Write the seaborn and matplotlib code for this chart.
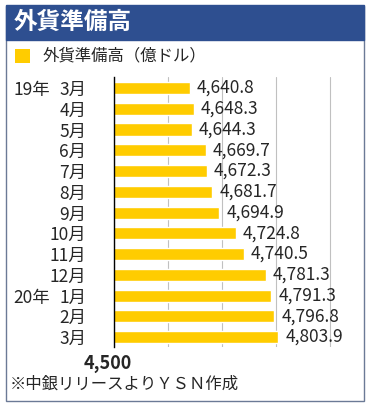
import pandas as pd
import seaborn as sns
import matplotlib.pyplot as plt
import matplotlib.transforms as mtransforms
from matplotlib.patches import Rectangle

# data
years = ['19年', '', '', '', '', '', '', '', '', '', '20年', '', '']
months = ['3月', '4月', '5月', '6月', '7月', '8月', '9月', '10月', '11月', '12月', '1月', '2月', '3月']
reserves = [4640.8, 4648.3, 4644.3, 4669.7, 4672.3, 4681.7, 4694.9,
            4724.8, 4740.5, 4781.3, 4791.3, 4796.8, 4803.9]

W, H = 371, 408
YELLOW = '#ffcc00'
BLUE = '#2e4f90'

sns.set_theme(style='white')
plt.rcParams['font.family'] = ['Noto Sans CJK JP', 'DejaVu Sans']

df = pd.DataFrame({'key': [str(i) for i in range(len(months))], 'value': reserves})

fig = plt.figure(figsize=(W / 100, H / 100), dpi=100)

def fx(x):
    return x / W

def fy(y):
    return 1 - y / H

# panel frame + title bar
fig.patches.append(Rectangle((fx(6), fy(401)), fx(358), 395 / H, transform=fig.transFigure,
                             fill=False, ec='#6b7a96', lw=1.0))
fig.patches.append(Rectangle((fx(6), fy(40)), fx(358), 35 / H, transform=fig.transFigure,
                             fc=BLUE, ec=BLUE))
fig.text(fx(14), fy(22), '外貨準備高', color='white', fontsize=17, fontweight='bold',
         va='center', ha='left')

# legend
fig.patches.append(Rectangle((fx(15), fy(63)), fx(15), 14 / H, transform=fig.transFigure,
                             fc=YELLOW, ec='none'))
fig.text(fx(43), fy(56), '外貨準備高（億ドル）', fontsize=11.8, va='center', ha='left')

# bars
ax = fig.add_axes([fx(114), fy(347), fx(246), 270 / H])
sns.barplot(data=df, x='value', y='key', orient='h', color=YELLOW, saturation=1,
            width=0.58, ax=ax)
ax.set_xlim(4500, 4955)
ax.set_ylim(12.48, -0.53)
ax.set_xlabel('')
ax.set_ylabel('')

ax.set_xticks([4500, 4600, 4700, 4800, 4900])
ax.set_xticklabels(['4,500', '', '', '', ''], fontsize=13, fontweight='bold')
ax.xaxis.grid(True, color='#c0c0c0', lw=0.8)
ax.set_axisbelow(True)
ax.tick_params(axis='x', length=0, pad=5)
shift = mtransforms.ScaledTranslation(-6 / 100, 0, fig.dpi_scale_trans)
for lab in ax.get_xticklabels():
    lab.set_transform(lab.get_transform() + shift)

ax.set_yticks(range(len(months)))
ax.set_yticklabels(months, fontsize=12.5)
ax.tick_params(axis='y', length=0, pad=20)

for s in ['top', 'right', 'bottom']:
    ax.spines[s].set_visible(False)
ax.spines['left'].set_color('black')
ax.spines['left'].set_linewidth(1.0)

ax.bar_label(ax.containers[0], labels=[f'{v:,.1f}' for v in reserves],
             padding=5, fontsize=12.5)

# year labels
trans = mtransforms.blended_transform_factory(fig.transFigure, ax.transData)
for i, y in enumerate(years):
    if y:
        ax.text(fx(50), i, y, transform=trans, ha='right', va='center_baseline',
                fontsize=12.5)

fig.text(fx(10), fy(384), '※中銀リリースよりＹＳＮ作成', fontsize=11.8, va='center', ha='left')

fig.savefig('out.png', dpi=100)
